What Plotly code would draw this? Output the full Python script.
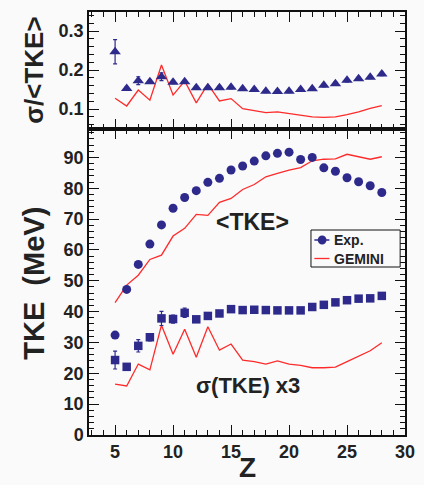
import plotly.graph_objects as go
from plotly.subplots import make_subplots

Z = list(range(5, 29))

# sigma/<TKE> (top panel)
ratio_exp = [0.247, 0.153, 0.173, 0.170, 0.183, 0.169, 0.170, 0.155, 0.155, 0.155, 0.156, 0.152,
             0.150, 0.146, 0.145, 0.146, 0.150, 0.152, 0.161, 0.165, 0.174, 0.178, 0.182, 0.190]
ratio_err = [0.031, 0.004, 0.010, 0.004, 0.010, 0.004, 0.004, 0.004, 0.004, 0.004, 0.004, 0.004,
             0.004, 0.004, 0.004, 0.004, 0.004, 0.004, 0.004, 0.004, 0.004, 0.004, 0.004, 0.004]
ratio_gem = [0.128, 0.108, 0.149, 0.123, 0.213, 0.136, 0.172, 0.116, 0.164, 0.121, 0.127, 0.101,
             0.096, 0.091, 0.093, 0.089, 0.085, 0.080, 0.079, 0.080, 0.086, 0.093, 0.102, 0.109]

# <TKE> (MeV)
tke_exp = [32.4, 47.2, 55.3, 61.9, 68.1, 73.5, 77.0, 79.2, 81.9, 83.2, 85.9, 87.2,
           88.8, 90.5, 91.3, 91.7, 89.3, 90.0, 86.6, 85.5, 83.4, 82.1, 80.8, 78.6]
tke_gem = [42.9, 48.6, 51.8, 56.9, 58.3, 64.5, 67.0, 71.5, 71.2, 75.4, 76.7, 79.6,
           81.2, 83.7, 84.8, 85.9, 86.7, 88.9, 89.4, 89.5, 91.0, 90.2, 89.4, 90.2]

# sigma(TKE) x3 (MeV)
sig_exp = [24.3, 22.1, 28.9, 31.7, 37.8, 37.6, 39.6, 37.5, 38.6, 39.4, 40.8, 40.5,
           40.6, 40.5, 40.4, 40.4, 40.4, 41.5, 42.2, 43.0, 43.7, 44.2, 44.3, 45.1]
sig_err = [2.9, 0.8, 2.0, 1.2, 2.3, 1.3, 1.5, 0.8, 0.8, 0.8, 0.8, 0.8,
           0.8, 0.8, 0.8, 0.8, 0.8, 0.8, 0.8, 0.8, 0.8, 0.8, 0.8, 0.8]
sig_gem = [16.5, 15.9, 23.0, 21.1, 35.6, 26.2, 34.3, 25.2, 35.1, 27.5, 29.5, 24.3,
           23.8, 23.0, 24.0, 23.0, 22.6, 21.8, 21.8, 22.0, 23.8, 25.6, 27.3, 29.9]

legend_labels = ["Exp.", "GEMINI"]

BLUE = "#2e2a8c"
RED = "#ff2a2a"
BG = "#fafafa"
TXT = "#222222"
FONT = "Liberation Sans"

W, H = 424, 485
ML, MR, MT, MB = 89, 9, 12, 50
PW, PH = W - ML - MR, H - MT - MB
split = (435 - 129) / PH

fig = make_subplots(rows=2, cols=1, shared_xaxes=True, vertical_spacing=0,
                    row_heights=[1 - split, split])

# top panel
fig.add_trace(go.Scatter(x=Z, y=ratio_gem, mode="lines", line=dict(color=RED, width=1.3),
                         showlegend=False), row=1, col=1)
fig.add_trace(go.Scatter(x=Z, y=ratio_exp, mode="markers",
                         marker=dict(symbol="triangle-up", size=10, color=BLUE),
                         error_y=dict(type="data", array=ratio_err, color=BLUE, thickness=1.2, width=2),
                         showlegend=False), row=1, col=1)

# bottom panel
fig.add_trace(go.Scatter(x=Z, y=tke_gem, mode="lines", line=dict(color=RED, width=1.3),
                         showlegend=False), row=2, col=1)
fig.add_trace(go.Scatter(x=Z, y=sig_gem, mode="lines", line=dict(color=RED, width=1.3),
                         showlegend=False), row=2, col=1)
fig.add_trace(go.Scatter(x=Z, y=tke_exp, mode="markers",
                         marker=dict(symbol="circle", size=9, color=BLUE),
                         showlegend=False), row=2, col=1)
fig.add_trace(go.Scatter(x=Z, y=sig_exp, mode="markers",
                         marker=dict(symbol="square", size=8.5, color=BLUE),
                         error_y=dict(type="data", array=sig_err, color=BLUE, thickness=1.2, width=2),
                         showlegend=False), row=2, col=1)

tickfont = dict(family=FONT, size=18, color=TXT, weight="bold")
axcommon = dict(showline=True, linecolor="#111111", linewidth=1.5, mirror="allticks",
                ticks="inside", ticklen=10, tickwidth=1, tickcolor="#111111",
                showgrid=False, zeroline=False, tickfont=tickfont)

fig.update_xaxes(range=[2.75, 30], dtick=5, tick0=0,
                 minor=dict(ticks="inside", dtick=1, ticklen=5, tickcolor="#111111"),
                 **axcommon)
fig.update_xaxes(showticklabels=False, row=1, col=1)
fig.update_yaxes(range=[0.049, 0.349], dtick=0.1, tick0=0,
                 minor=dict(ticks="inside", dtick=0.02, ticklen=5, tickcolor="#111111"),
                 row=1, col=1, **axcommon)
fig.update_yaxes(range=[0, 99.2], dtick=10, tick0=0,
                 minor=dict(ticks="inside", dtick=2, ticklen=5, tickcolor="#111111"),
                 row=2, col=1, **axcommon)


def px(xp):
    return (xp - ML) / PW


def py(yp):
    return (435 - yp) / PH


ann = [
    dict(text="σ/&lt;TKE&gt;", x=px(32), y=py(70), textangle=-90, yanchor="middle",
         font=dict(family=FONT, size=26, color=TXT, weight="bold")),
    dict(text="TKE  (MeV)", x=px(32), y=py(283), textangle=-90, yanchor="middle",
         font=dict(family=FONT, size=29, color=TXT, weight="bold")),
    dict(text="Z", x=px(253), y=py(485), yanchor="bottom",
         font=dict(family=FONT, size=28, color=TXT, weight="bold")),
    dict(text="&lt;TKE&gt;", x=px(258), y=py(222), yanchor="middle",
         font=dict(family=FONT, size=23, color=TXT, weight="bold")),
    dict(text="σ(TKE) x3", x=px(253), y=py(385), yanchor="middle",
         font=dict(family=FONT, size=22, color=TXT, weight="bold")),
]
for a in ann:
    fig.add_annotation(xref="paper", yref="paper", showarrow=False, xanchor="center", **a)

# legend box (ROOT style)
lx0, lx1, ly0, ly1 = 318, 410, 230, 267
fig.add_shape(type="rect", xref="paper", yref="paper",
              x0=px(lx0), x1=px(lx1), y0=py(ly1), y1=py(ly0),
              line=dict(color="#111111", width=1), fillcolor=BG, layer="above")
rows_y = [240, 258.5]
fig.add_shape(type="line", xref="paper", yref="paper",
              x0=px(321.5), x1=px(337), y0=py(rows_y[0]), y1=py(rows_y[0]),
              line=dict(color=BLUE, width=1.5))
fig.add_shape(type="circle", xref="paper", yref="paper",
              x0=px(325), x1=px(334), y0=py(rows_y[0] + 4.5), y1=py(rows_y[0] - 4.5),
              line=dict(color=BLUE, width=0), fillcolor=BLUE)
fig.add_shape(type="line", xref="paper", yref="paper",
              x0=px(321.5), x1=px(337), y0=py(rows_y[1]), y1=py(rows_y[1]),
              line=dict(color=RED, width=1.3))
for lab, ry in zip(legend_labels, rows_y):
    fig.add_annotation(xref="paper", yref="paper", showarrow=False, text=lab,
                       x=px(340), y=py(ry), xanchor="left", yanchor="middle",
                       font=dict(family=FONT, size=14, color=TXT, weight="bold"))

fig.update_layout(
    width=W, height=H, margin=dict(l=ML, r=MR, t=MT, b=MB),
    paper_bgcolor=BG, plot_bgcolor=BG, showlegend=False,
)

fig.write_html("out.html")
